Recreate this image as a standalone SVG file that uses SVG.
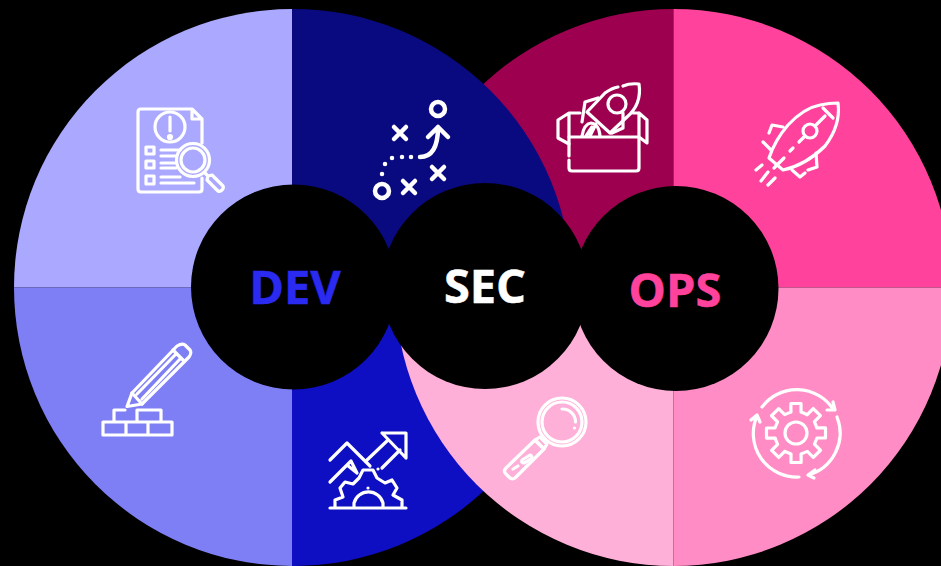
<svg xmlns="http://www.w3.org/2000/svg" xmlns:xlink="http://www.w3.org/1999/xlink" width="941" height="566" viewBox="0 0 941 566">
<style>
.i{fill:none;stroke:#fff;stroke-width:3.2;stroke-linecap:round;stroke-linejoin:round}
.b{stroke-width:4.5}
.t{font-family:"Open Sans","Noto Sans",sans-serif;font-weight:700;font-size:47px;text-anchor:middle;stroke-width:.5}
</style>
<defs>
<path id="tooth" d="M-5.1-21V-29.500H5V-21L11-18.500"/>
</defs>
<rect width="941" height="566" fill="#000"/>
<g id="quadrants">
<path d="M673.500 287.500V9A278.500 278.500 0 0 0 395 287.500Z" fill="#9E0050"/>
<path d="M292 287.500V9A278.500 278.500 0 0 0 14 287.500Z" fill="#ABA9FF"/>
<path d="M292 287.500V9A278.500 278.500 0 0 1 572 287.500Z" fill="#0A0A80"/>
<path d="M292 287.500H14A278.500 278.500 0 0 0 292 566Z" fill="#7F7FF5"/>
<path d="M292 287.500H572A278.500 278.500 0 0 1 292 566Z" fill="#0E0EC2"/>
<path d="M673.500 287.500H395A278.500 278.500 0 0 0 673.500 566Z" fill="#FFB0D8"/>
<path d="M673.500 287.500V9A278.500 278.500 0 0 1 952 287.500Z" fill="#FF429C"/>
<path d="M673.500 287.500H952A278.500 278.500 0 0 1 673.500 566Z" fill="#FF8CC4"/>
</g>
<g id="icon-report" class="i">
<path d="M202 143V119L192 109H141Q138 109 138 112V189Q138 192 141 192H199Q202 192 202 189V178M192 109V119H202"/>
<circle cx="170" cy="127" r="15"/>
<path d="M170 117V131"/><circle cx="170" cy="137" r="1.500"/>
<rect x="146" y="147" width="8" height="7"/><rect x="146" y="161" width="8" height="7"/><rect x="146" y="176" width="8" height="8"/>
<path d="M161 150H180M161 156H176M161 163H175M161 168H176M161 177H180M161 183H194"/>
<circle cx="193" cy="160" r="16.500"/><circle cx="193" cy="160" r="12"/>
<path d="M205 173L208 176M208 176L212 175L223 186Q224 188 222 190Q220 192 218 191L207 180Z"/>
</g>
<g id="icon-play" class="i b">
<circle cx="438" cy="109" r="7"/>
<path d="M394 127L406 139M406 127L394 139"/>
<path d="M420 157C432 157 438 147 438 127M428 137L438 127L448 137"/>
<path d="M411 157h.01M402 157h.01M392 158h.01M385 164h.01M382 174h.01"/>
<circle cx="382" cy="191" r="7"/>
<path d="M403 181L415 193M415 181L403 193M432 167L444 179M444 167L432 179"/>
</g>
<g id="icon-box" class="i">
<path d="M569 156V137H639V168Q639 171 636 171H572Q569 171 569 168V160"/>
<path d="M569 137V113L558 120V138L569 144M639 113L647 120V143L639 137V113M569 113L580 113M639 113H633"/>
<path d="M623 86Q630 83 639 84Q642 104 627 117L610 133L587 112L605 93Q612 88 618 87"/>
<circle cx="617" cy="104" r="9"/>
<path d="M582 122L585 102L598 98M623 113V128L612 133"/>
<path d="M582 136Q584 124 591 123Q599 124 600 136M590 136L596 124M586 136L592 127"/>
</g>
<g id="icon-rocket" class="i">
<path d="M838 103Q829 103 820 105Q804 108 788 125Q775 140 769 158L783 170Q806 165 825 146Q841 125 838 103Z"/>
<path d="M823 108L833 118"/>
<circle cx="810" cy="131" r="7"/>
<path d="M815 126L825 116M805 136L799 142M793 148L790 151M784 158L774 168"/>
<path d="M783 127L772 125L769 133M763 142L771 150M816 153L817 167L808 170M792 170L800 177L805 173"/>
<path d="M756 170L762 165M761 181L768 172M768 185L775 178"/>
</g>
<g id="icon-build" class="i">
<path d="M127 406.500L132 393L177 346Q182 343 185 345L190 350Q192 353 189 357L142 404Z"/>
<path d="M173 350L184 361M132 393L142 404M137 394L176 354M142 399L181 358"/>
<path d="M103 422H172V435H103ZM126 422V435M148 422V435M114 422V410H125M137 422V410H161V422"/>
</g>
<g id="icon-growth" class="i">
<path d="M330 460L347 443L370 466M367 460L388 440M382 468L400 450"/>
<path d="M382 433H406V458M382 433L406 458M378 469h.01"/>
<path d="M330 482L351 461L357 473M347 465L357 473"/>
<path d="M335 507V500L343 497L340 488L345 482L353 484L359 478L363 470H373L377 478L385 483L392 480L397 488L393 495L402 500V507"/>
<path d="M354 507V503A15 15 0 0 1 383 503V507M368 488h.01"/>
<path d="M330 508H406"/>
</g>
<g id="icon-lens" class="i">
<circle cx="562" cy="422" r="24"/><circle cx="562" cy="422" r="20"/>
<path d="M562 409A13 13 0 0 1 575.500 422M574.500 428h.01"/>
<path d="M540 437L547 444L544 449L535 440Z"/>
<path d="M535 440L544 449L515 478Q512 480 509 477L506 474Q503 471 506 468Z"/>
<path d="M522 460L530 455Q533 456 531 459L524 463Q521 463 522 460ZM513 469L518 466"/>
</g>
<g id="icon-gear" class="i">
<circle cx="796" cy="433" r="11"/>
<g transform="translate(796 433)">
<use xlink:href="#tooth"/>
<use xlink:href="#tooth" transform="rotate(45)"/>
<use xlink:href="#tooth" transform="rotate(90)"/>
<use xlink:href="#tooth" transform="rotate(135)"/>
<use xlink:href="#tooth" transform="rotate(180)"/>
<use xlink:href="#tooth" transform="rotate(225)"/>
<use xlink:href="#tooth" transform="rotate(270)"/>
<use xlink:href="#tooth" transform="rotate(315)"/>
</g>
<path d="M762 407A43.500 43.500 0 0 1 833 409M833 402L835 410L827 410"/>
<path d="M837 417A43.500 43.500 0 0 1 808 475M815 470L808 475L814 478"/>
<path d="M799 477A43.500 43.500 0 0 1 757 416M751 420L757 415L760 422"/>
</g>
<g id="dev">
<circle cx="293.500" cy="287" r="102.500" fill="#000"/>
<text class="t" x="295" y="304" fill="#2A2AF0" stroke="#2A2AF0">DEV</text>
</g>
<g id="sec">
<circle cx="485" cy="286" r="103" fill="#000"/>
<text class="t" x="485" y="303" fill="#fff" stroke="#fff">SEC</text>
</g>
<g id="ops">
<circle cx="676" cy="288.500" r="102.500" fill="#000"/>
<text class="t" x="675" y="307" fill="#FF429C" stroke="#FF429C">OPS</text>
</g>
</svg>
